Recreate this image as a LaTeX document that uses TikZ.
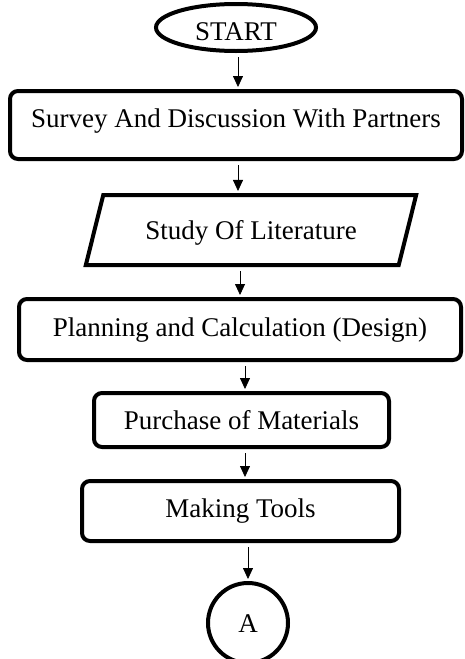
\documentclass[tikz,border=0pt]{standalone}
\usepackage{fontspec}
\setmainfont{Liberation Serif}
\usepackage{tikz}
\usetikzlibrary{shapes}
\usetikzlibrary{arrows.meta}
\tikzset{ base_node/.style = {draw, line width=4pt, inner sep=0pt, align=center, font=\fontsize{27pt}{32pt}\selectfont, text height=19pt, text depth=6pt} }
\tikzset{ term_node/.style = {base_node, ellipse} }
\tikzset{ proc_box/.style = {base_node, rectangle, rounded corners=8pt} }
\tikzset{ data_box/.style = {base_node, trapezium, trapezium left angle=76, trapezium right angle=104} }
\tikzset{ conn_circ/.style = {base_node, circle} }
\tikzset{ flow_arrow/.style = {line width=0.8pt, -{Triangle[length=11pt,width=10pt]}, shorten <=4pt, shorten >=2pt} }

\begin{document}
\begin{tikzpicture}[x=1pt,y=-1pt]
            \useasboundingbox (0,0) rectangle (465,659);
            \node [style=term_node, minimum width=160pt, minimum height=47pt, text height=25pt, text depth=0pt] (start) at (236,27.5) {START};
            \node [style=proc_box, minimum width=452pt, minimum height=68pt, text depth=15pt] (survey) at (236,125) {Survey And Discussion With Partners};
            \node [style=data_box, inner xsep=42pt, inner ysep=25pt, text depth=1pt] (study) at (251,230) {Study Of Literature};
            \node [style=proc_box, minimum width=442pt, minimum height=61pt] (plan) at (240,329.5) {Planning and Calculation (Design)};
            \node [style=proc_box, minimum width=295pt, minimum height=54pt, text depth=1pt] (buy) at (241.5,420) {Purchase of Materials};
            \node [style=proc_box, minimum width=317pt, minimum height=60pt] (make) at (240.5,511) {Making Tools};
            \node [style=conn_circ, minimum size=80pt, text depth=1pt] (A) at (248,623) {A};
            \draw[flow_arrow] ([xshift=2pt]start.south) -- ([xshift=2pt]start.south |- survey.north);
            \draw[flow_arrow] ([xshift=2pt]survey.south) -- ([xshift=2pt]survey.south |- study.north);
            \draw[flow_arrow] ([xshift=-11pt]study.south) -- ([xshift=-11pt]study.south |- plan.north);
            \draw[flow_arrow] ([xshift=5pt]plan.south) -- ([xshift=5pt]plan.south |- buy.north);
            \draw[flow_arrow] ([xshift=3.5pt]buy.south) -- ([xshift=3.5pt]buy.south |- make.north);
            \draw[flow_arrow] (make.south -| A.north) -- (A.north);
       \end{tikzpicture}
\end{document}
